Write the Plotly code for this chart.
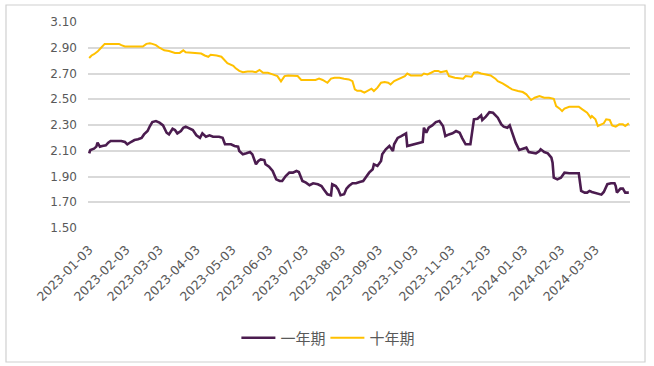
import plotly.graph_objects as go

# 十年期 (10-year) readings
ten_dates = [
    "2023-01-03","2023-01-05","2023-01-07","2023-01-10","2023-01-13","2023-01-16","2023-01-20","2023-01-26","2023-01-28","2023-01-30",
    "2023-02-02","2023-02-06","2023-02-10","2023-02-14","2023-02-17","2023-02-20","2023-02-23","2023-02-25","2023-02-28",
    "2023-03-03","2023-03-07","2023-03-11","2023-03-16","2023-03-20","2023-03-23","2023-03-25","2023-03-30",
    "2023-04-03","2023-04-07","2023-04-10","2023-04-13","2023-04-15","2023-04-20","2023-04-24","2023-04-27","2023-04-29",
    "2023-05-04","2023-05-06","2023-05-09","2023-05-12","2023-05-16","2023-05-20","2023-05-23","2023-05-26","2023-05-29",
    "2023-06-02","2023-06-06","2023-06-10","2023-06-13","2023-06-16","2023-06-19","2023-06-23","2023-06-27","2023-06-30",
    "2023-07-04","2023-07-08","2023-07-12","2023-07-15","2023-07-18","2023-07-22","2023-07-25","2023-07-28",
    "2023-08-01","2023-08-05","2023-08-09","2023-08-12","2023-08-14","2023-08-16","2023-08-19","2023-08-22","2023-08-25","2023-08-28","2023-08-30",
    "2023-09-02","2023-09-05","2023-09-08","2023-09-11","2023-09-13","2023-09-16","2023-09-20","2023-09-25","2023-09-27","2023-09-30",
    "2023-10-04","2023-10-09","2023-10-11","2023-10-14","2023-10-17","2023-10-20","2023-10-23","2023-10-25","2023-10-30",
    "2023-11-01","2023-11-06","2023-11-10","2023-11-13","2023-11-15","2023-11-20","2023-11-22","2023-11-25","2023-11-28",
    "2023-12-02","2023-12-06","2023-12-10","2023-12-12","2023-12-16","2023-12-20","2023-12-24","2023-12-29",
    "2024-01-02","2024-01-05","2024-01-07","2024-01-09","2024-01-12","2024-01-16","2024-01-20","2024-01-24","2024-01-28","2024-01-30",
    "2024-02-02","2024-02-04","2024-02-06","2024-02-10","2024-02-14","2024-02-18","2024-02-21","2024-02-25","2024-02-28","2024-02-29",
    "2024-03-03","2024-03-05","2024-03-08","2024-03-10","2024-03-12","2024-03-15","2024-03-17","2024-03-20","2024-03-23","2024-03-26","2024-03-28","2024-03-31",
]
ten_values = [
    2.82,2.84,2.85,2.87,2.90,2.93,2.93,2.93,2.93,2.92,
    2.91,2.91,2.91,2.91,2.91,2.93,2.935,2.93,2.92,
    2.90,2.88,2.875,2.86,2.86,2.88,2.865,2.86,
    2.86,2.855,2.84,2.83,2.845,2.84,2.83,2.80,2.78,
    2.76,2.74,2.72,2.71,2.716,2.716,2.71,2.727,2.706,
    2.706,2.693,2.68,2.639,2.68,2.685,2.68,2.68,2.65,
    2.65,2.65,2.65,2.66,2.65,2.628,2.66,2.667,
    2.667,2.66,2.654,2.64,2.577,2.566,2.566,2.551,2.564,2.582,2.564,
    2.59,2.628,2.634,2.628,2.615,2.641,2.66,2.68,2.70,2.685,
    2.685,2.685,2.70,2.693,2.706,2.72,2.72,2.71,2.72,
    2.68,2.667,2.66,2.66,2.68,2.675,2.706,2.71,2.70,
    2.693,2.685,2.66,2.641,2.623,2.60,2.577,2.564,
    2.556,2.538,2.512,2.494,2.512,2.525,2.512,2.512,2.504,2.447,
    2.427,2.408,2.427,2.442,2.442,2.442,2.421,2.396,2.357,2.37,
    2.344,2.292,2.305,2.313,2.344,2.339,2.297,2.287,2.305,2.305,2.292,2.313,
]

# 一年期 (1-year) readings
one_dates = [
    "2023-01-03","2023-01-04","2023-01-07","2023-01-09","2023-01-10","2023-01-12","2023-01-14","2023-01-17","2023-01-19","2023-01-21","2023-01-26","2023-01-30",
    "2023-02-02","2023-02-04","2023-02-07","2023-02-10","2023-02-13","2023-02-16","2023-02-18","2023-02-21","2023-02-23","2023-02-25","2023-02-28",
    "2023-03-03","2023-03-06","2023-03-09","2023-03-11","2023-03-14","2023-03-16","2023-03-18","2023-03-21","2023-03-23","2023-03-25","2023-03-28","2023-03-31",
    "2023-04-03","2023-04-06","2023-04-08","2023-04-11","2023-04-14","2023-04-17","2023-04-20","2023-04-22","2023-04-25","2023-04-27","2023-04-29",
    "2023-05-02","2023-05-05","2023-05-08","2023-05-09","2023-05-12","2023-05-15","2023-05-18","2023-05-20","2023-05-23","2023-05-25","2023-05-27","2023-05-30","2023-05-31",
    "2023-06-03","2023-06-06","2023-06-09","2023-06-12","2023-06-14","2023-06-17","2023-06-20","2023-06-23","2023-06-26","2023-06-28",
    "2023-07-01","2023-07-04","2023-07-07","2023-07-10","2023-07-14","2023-07-17","2023-07-19","2023-07-22","2023-07-25","2023-07-26","2023-07-29","2023-07-31",
    "2023-08-02","2023-08-05","2023-08-07","2023-08-09","2023-08-12","2023-08-15","2023-08-18","2023-08-21","2023-08-23","2023-08-26","2023-08-29","2023-08-30",
    "2023-09-02","2023-09-05","2023-09-06","2023-09-09","2023-09-12","2023-09-15","2023-09-16","2023-09-19","2023-09-22","2023-09-25","2023-09-26","2023-09-27",
    "2023-10-02","2023-10-06","2023-10-10","2023-10-11","2023-10-13","2023-10-15","2023-10-18","2023-10-21","2023-10-24","2023-10-27","2023-10-28","2023-10-29",
    "2023-11-01","2023-11-04","2023-11-07","2023-11-10","2023-11-12","2023-11-15","2023-11-19","2023-11-21","2023-11-22","2023-11-25","2023-11-28","2023-11-29",
    "2023-12-02","2023-12-05","2023-12-08","2023-12-12","2023-12-15","2023-12-17","2023-12-20","2023-12-22","2023-12-24","2023-12-27","2023-12-30",
    "2024-01-02","2024-01-05","2024-01-07","2024-01-10","2024-01-13","2024-01-16","2024-01-17","2024-01-20","2024-01-23","2024-01-26","2024-01-27","2024-01-28","2024-01-31",
    "2024-02-03","2024-02-06","2024-02-10","2024-02-14","2024-02-18","2024-02-20","2024-02-23","2024-02-25","2024-02-27","2024-02-29",
    "2024-03-03","2024-03-08","2024-03-10","2024-03-13","2024-03-16","2024-03-19","2024-03-20","2024-03-21","2024-03-24","2024-03-26","2024-03-28","2024-03-31",
]
one_values = [
    2.08,2.106,2.116,2.132,2.163,2.132,2.137,2.142,2.163,2.176,2.176,2.176,
    2.168,2.15,2.168,2.183,2.189,2.20,2.227,2.253,2.292,2.323,2.331,
    2.318,2.297,2.24,2.227,2.271,2.261,2.235,2.253,2.279,2.287,2.271,2.261,
    2.22,2.20,2.235,2.209,2.22,2.209,2.209,2.209,2.20,2.15,2.15,
    2.15,2.137,2.132,2.098,2.072,2.08,2.09,2.072,1.995,2.02,2.033,2.028,1.995,
    1.976,1.943,1.878,1.865,1.865,1.904,1.93,1.93,1.943,1.935,
    1.865,1.852,1.832,1.847,1.84,1.826,1.80,1.762,1.754,1.84,1.826,1.80,
    1.754,1.762,1.806,1.826,1.847,1.847,1.857,1.865,1.891,1.93,1.956,1.995,
    1.982,2.02,2.072,2.111,2.137,2.098,2.15,2.20,2.214,2.227,2.235,2.137,
    2.15,2.163,2.168,2.279,2.24,2.279,2.297,2.323,2.331,2.292,2.253,2.214,
    2.227,2.235,2.253,2.24,2.20,2.15,2.15,2.305,2.344,2.349,2.375,2.339,
    2.365,2.40,2.395,2.357,2.305,2.287,2.279,2.297,2.24,2.163,2.106,
    2.116,2.124,2.09,2.085,2.08,2.098,2.111,2.09,2.08,2.046,2.007,1.891,1.878,
    1.891,1.93,1.925,1.925,1.925,1.788,1.775,1.775,1.788,1.78,
    1.77,1.759,1.78,1.84,1.847,1.847,1.826,1.775,1.806,1.806,1.775,1.775,
]

tick_dates = ["2023-01-03","2023-02-03","2023-03-03","2023-04-03","2023-05-03","2023-06-03",
              "2023-07-03","2023-08-03","2023-09-03","2023-10-03","2023-11-03","2023-12-03",
              "2024-01-03","2024-02-03","2024-03-03"]
y_ticks = [1.50, 1.70, 1.90, 2.10, 2.30, 2.50, 2.70, 2.90, 3.10]

FONT = "Noto Sans CJK SC"
TXT = "#595959"

fig = go.Figure()
fig.add_trace(go.Scatter(x=one_dates, y=one_values, name="一年期", mode="lines",
                         line=dict(color="#4B1C4F", width=2.6)))
fig.add_trace(go.Scatter(x=ten_dates, y=ten_values, name="十年期", mode="lines",
                         line=dict(color="#FFC000", width=2)))

fig.update_layout(
    width=654, height=366,
    margin=dict(l=88, r=24, t=22, b=138),
    paper_bgcolor="white", plot_bgcolor="white",
    font=dict(family=FONT, color=TXT, size=12),
    showlegend=True,
    legend=dict(orientation="h", x=0.438, xanchor="center", y=-0.534, yanchor="middle",
                font=dict(size=15, color=TXT), itemwidth=34, tracegroupgap=0,
                entrywidth=40),
    xaxis=dict(type="date", range=["2023-01-02", "2024-04-01"],
               tickvals=tick_dates, ticktext=tick_dates, tickangle=-45,
               tickfont=dict(family="DejaVu Sans", size=12.5, color=TXT),
               showgrid=False, zeroline=False, showline=False, ticks="",
               ticklabelstandoff=11),
    yaxis=dict(range=[1.5, 3.1], tickvals=y_ticks, tickformat=".2f",
               tickfont=dict(family="DejaVu Sans", size=12, color=TXT), showgrid=True,
               gridcolor="#d9d9d9", gridwidth=1.5, zeroline=False, showline=False,
               ticks="", ticklabelstandoff=10),
    shapes=[dict(type="rect", xref="paper", yref="paper",
                 x0=-0.1513, x1=1.0277, y0=-0.6505, y1=1.0825,
                 line=dict(color="#d0d0d0", width=1.2), fillcolor="rgba(0,0,0,0)",
                 layer="above")],
)

fig.write_html("out.html", config={"displayModeBar": False},
               post_script="document.body.style.margin='0';document.body.style.overflow='hidden';")
